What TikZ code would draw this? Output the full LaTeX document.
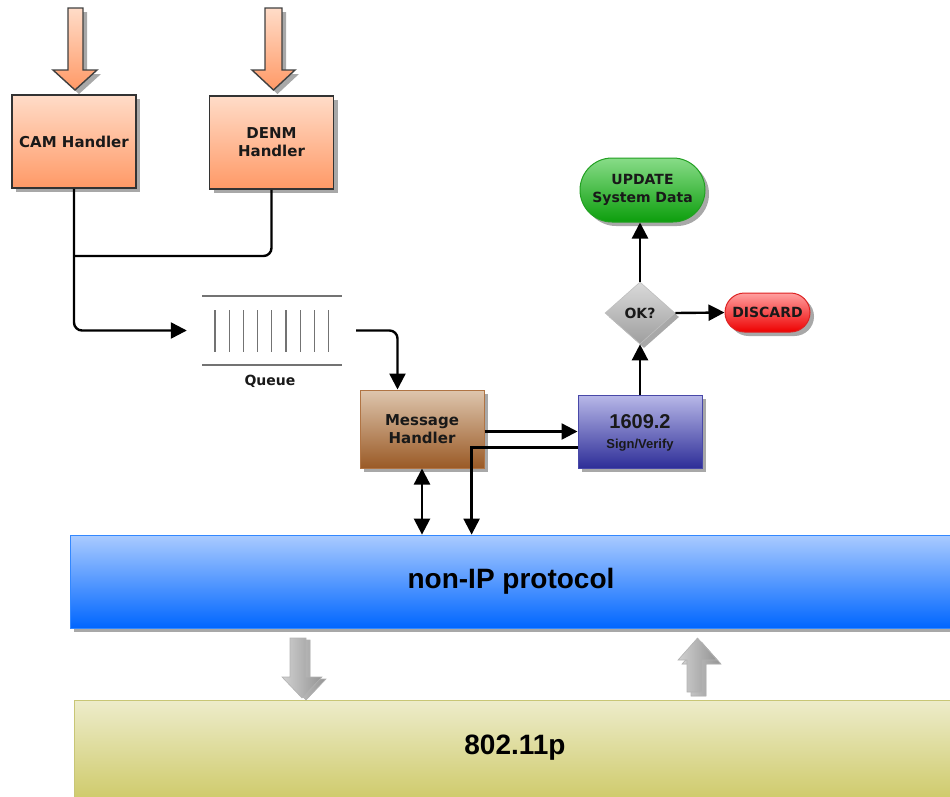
\documentclass[tikz,border=0pt]{standalone}
\usepackage{fontspec}
\setmainfont{DejaVu Sans}
\newfontfamily\arialfont{Liberation Sans}
\usetikzlibrary{arrows.meta,shadows,shapes.geometric,shapes.misc,calc}

\definecolor{salmonT}{HTML}{FFDCC8}
\definecolor{salmonB}{HTML}{FF9966}
\definecolor{brownT}{HTML}{DEC6AE}
\definecolor{brownB}{HTML}{9A5A26}
\definecolor{brownD}{HTML}{B07444}
\definecolor{violetT}{HTML}{B8B8E8}
\definecolor{violetB}{HTML}{2E2E98}
\definecolor{violetD}{HTML}{4848A8}
\definecolor{greenT}{HTML}{88DC88}
\definecolor{greenB}{HTML}{0C9E0C}
\definecolor{greenD}{HTML}{22A022}
\definecolor{redT}{HTML}{FFA0A0}
\definecolor{redB}{HTML}{EE0000}
\definecolor{redD}{HTML}{DD2222}
\definecolor{greyT}{HTML}{DADADA}
\definecolor{greyB}{HTML}{9E9E9E}
\definecolor{blueT}{HTML}{AACBFF}
\definecolor{blueB}{HTML}{0066FF}
\definecolor{blueD}{HTML}{3388FF}
\definecolor{oliveT}{HTML}{EDECCB}
\definecolor{oliveB}{HTML}{CFCB6C}
\definecolor{oliveD}{HTML}{C8C676}
\definecolor{shadowgrey}{HTML}{A8A8A8}

\begin{document}
\begin{tikzpicture}[x=1pt,y=-1pt,
  shd/.style={drop shadow={shadow xshift=4pt,shadow yshift=-4pt,fill=shadowgrey,opacity=1}},
  tip/.style={-{Triangle[length=16pt,width=16pt]}},
  conn/.style={line width=2.4pt,tip},
  boxtext/.style={align=center,text=black!90,font=\bfseries\fontsize{15}{18}\selectfont},
  handler/.style={boxtext,draw=black!80,line width=1.6pt,top color=salmonT,bottom color=salmonB,
    shd,minimum width=124pt,minimum height=93pt},
  msgbox/.style={boxtext,draw=brownD,line width=1pt,top color=brownT,bottom color=brownB,
    shd,minimum width=124pt,minimum height=78pt},
  secbox/.style={draw=violetD,line width=1pt,top color=violetT,bottom color=violetB,
    shd,minimum width=124pt,minimum height=73pt},
  pill/.style={rounded rectangle,boxtext,font=\bfseries\fontsize{14}{18}\selectfont,line width=1pt,shd,inner sep=0pt},
  layer/.style={inner sep=0pt,text=black,font=\arialfont\bfseries\fontsize{28}{32}\selectfont},
  bigarrow/.style={draw=black!75,line width=1.4pt,top color=salmonT,bottom color=salmonB},
  greyarrow/.style={draw=black!30,line width=0.6pt,left color=black!18,right color=black!42},
  qline/.style={draw=black!55,line width=1.3pt}
]
\useasboundingbox (0,0) rectangle (950,796);

% incoming arrows above the handlers (shadow first, then the arrow)
\fill[shadowgrey] (72,12) -- (87,12) -- (87,74) -- (101,74) -- (79,94) -- (57,74) -- (72,74) -- cycle;
\path[bigarrow] (68,8) -- (83,8) -- (83,70) -- (97,70) -- (75,90) -- (53,70) -- (68,70) -- cycle;
\fill[shadowgrey] (269,12) -- (286,12) -- (286,74) -- (299,74) -- (277.5,94) -- (256,74) -- (269,74) -- cycle;
\path[bigarrow] (265,8) -- (282,8) -- (282,70) -- (295,70) -- (273.5,90) -- (252,70) -- (265,70) -- cycle;

% handlers
\node[handler] (cam) at (74,141.5) {CAM Handler};
\node[handler] (denm) at (271.5,142.5) {DENM\\Handler};

% queue
\node[minimum width=169pt,minimum height=69pt,inner sep=0pt] (queue) at (271.5,330.5) {};
\draw[qline] (202,296) -- (342,296);
\draw[qline] (202,365) -- (342,365);
\foreach \qx in {215,229.2,243.4,257.6,271.8,286,300.2,314.4,328.6}
  \draw[qline,line width=1.1pt] (\qx,310) -- (\qx,352);
\node[font=\bfseries\fontsize{14}{16}\selectfont,text=black!90] (qlabel) at (270,381) {Queue};

% message handler and security block
\node[msgbox] (mh) at (422,429) {Message\\Handler};
\node[secbox] (sv) at (640,431.5) {};
\node[text=black!90,font=\arialfont\bfseries\fontsize{20}{22}\selectfont] (svnum) at (640,422) {1609.2};
\node[text=black!90,font=\arialfont\bfseries\fontsize{13}{15}\selectfont] (svtxt) at (640,445) {Sign/Verify};

% decision and outcomes
\node[diamond,draw=black!25,line width=0.6pt,top color=greyT,bottom color=greyB,shd,
  minimum width=70pt,minimum height=62pt,inner sep=0pt,boxtext,font=\bfseries\fontsize{14}{16}\selectfont] (ok) at (640,313) {OK?};
\node[pill,draw=greenD,top color=greenT,bottom color=greenB,minimum width=125pt,minimum height=64pt] (upd) at (642.5,190) {UPDATE\\System Data};
\node[pill,draw=redD,top color=redT,bottom color=redB,minimum width=85pt,minimum height=39pt] (disc) at (767.5,312.5) {DISCARD};

% protocol layers
\fill[shadowgrey] (74,539) rectangle (960,632);
\node[layer,draw=blueD,line width=0.8pt,top color=blueT,bottom color=blueB,minimum width=885pt,minimum height=93pt] (nonip) at (512.5,581.5) {};
\node[layer] (niplabel) at (511,581) {non-IP protocol};
\node[layer,draw=oliveD,line width=0.8pt,top color=oliveT,bottom color=oliveB,minimum width=881pt,minimum height=98pt] (phy) at (514.5,749) {};
\node[layer] (phylabel) at (515,748) {802.11p};

% grey arrows between the layers
\path[greyarrow,fill=black!35] (294,640) -- (310,640) -- (310,679) -- (326,679) -- (306,700) -- (286,679) -- (294,679) -- cycle;
\path[greyarrow] (290,638) -- (306,638) -- (306,677) -- (322,677) -- (302,698) -- (282,677) -- (290,677) -- cycle;
\path[greyarrow,fill=black!35] (691,696) -- (706,696) -- (706,664) -- (721,664) -- (701.5,642) -- (682,664) -- (691,664) -- cycle;
\path[greyarrow] (687,692) -- (702,692) -- (702,660) -- (717,660) -- (697.5,638) -- (678,660) -- (687,660) -- cycle;

% connectors
\coordinate (join) at (74,256);
\draw[conn,rounded corners=8pt] (cam.south) |- (queue.west);
\draw[line width=2.4pt,rounded corners=8pt] (denm.south) |- (join);
\draw[conn,rounded corners=8pt] (queue.east) -| ($(mh.north west)+(38,0)$);
\draw[conn] (mh.east |- sv.west) -- (sv.west);
\draw[conn] ($(sv.west)+(0,16)$) -| ($(nonip.north west)+(402,0)$);
\draw[line width=2.4pt,{Triangle[length=16pt,width=16pt]}-{Triangle[length=16pt,width=16pt]}] (mh.south) -- (mh.south |- nonip.north);
\draw[conn] (sv.north) -- (ok.south);
\draw[conn] (ok.north) -- (ok.north |- upd.south);
\draw[conn] (ok.east) -- (disc.west);
\end{tikzpicture}
\end{document}
